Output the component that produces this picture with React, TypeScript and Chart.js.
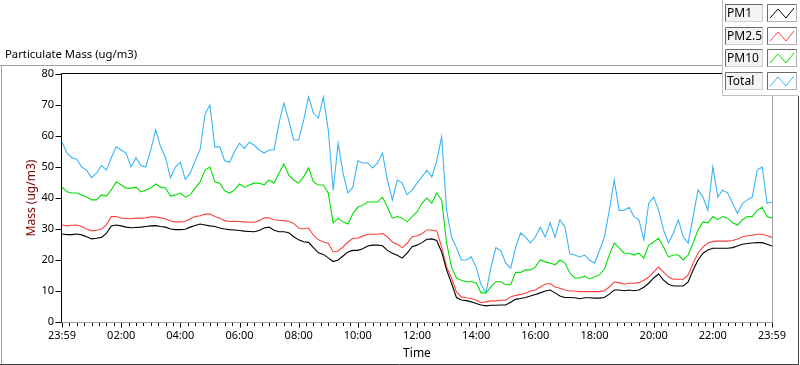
import React, { useEffect, useRef } from 'react';
import { Chart, registerables } from 'chart.js';
Chart.register(...registerables);

// Values sampled every 10 minutes starting at 23:59 (minute 0) to 23:59 next day (minute 1440)
const STEP_MIN = 10;

const PM1 = [
  28.4, 28.2, 28.2, 28.4, 28.1, 27.5, 26.8, 27.0, 27.3, 28.6,
  31.0, 31.3, 31.0, 30.6, 30.4, 30.5, 30.6, 30.8, 31.0, 31.1,
  30.8, 30.6, 30.0, 29.8, 29.8, 29.9, 30.6, 31.1, 31.6, 31.3,
  31.0, 30.8, 30.3, 30.0, 29.8, 29.7, 29.5, 29.3, 29.2, 29.1,
  29.5, 30.3, 30.6, 29.6, 29.1, 29.1, 28.8, 27.5, 26.5, 25.9,
  25.7, 24.0, 22.3, 21.8, 20.7, 19.5, 20.0, 21.3, 22.6, 23.1,
  23.1, 23.6, 24.5, 24.8, 24.8, 24.6, 23.1, 22.2, 21.5, 20.6,
  22.2, 24.3, 24.8, 25.6, 26.7, 26.8, 26.3, 22.6, 16.8, 12.5,
  7.9, 7.1, 6.9, 6.5, 6.0, 5.5, 5.2, 5.4, 5.4, 5.5,
  5.5, 6.4, 7.3, 7.6, 7.9, 8.4, 8.9, 9.4, 10.0, 10.3,
  9.4, 8.4, 7.9, 7.9, 7.8, 7.5, 7.8, 7.8, 7.7, 7.7,
  7.9, 9.0, 10.3, 10.3, 10.1, 10.3, 10.1, 10.3, 11.2, 12.5,
  14.2, 15.5, 13.5, 12.2, 11.6, 11.6, 11.6, 12.9, 16.8, 20.0,
  22.2, 23.2, 23.8, 23.8, 23.8, 23.8, 24.0, 24.5, 25.1, 25.3,
  25.5, 25.6, 25.6, 25.1, 24.5,
];

const PM25 = [
  31.3, 31.0, 31.2, 31.3, 30.8, 30.0, 29.4, 29.6, 30.0, 31.3,
  34.0, 34.0, 33.5, 33.4, 33.3, 33.5, 33.5, 33.6, 33.9, 33.9,
  33.6, 33.3, 32.6, 32.3, 32.3, 32.4, 33.3, 34.0, 34.3, 34.8,
  34.8, 34.0, 33.5, 32.7, 32.4, 32.5, 32.4, 32.3, 32.2, 32.2,
  32.7, 33.6, 33.6, 33.0, 32.8, 32.7, 32.5, 31.8, 30.3, 30.0,
  30.3, 28.0, 26.5, 25.8, 25.4, 22.6, 22.9, 24.2, 25.8, 27.0,
  27.0, 27.7, 28.3, 28.3, 28.3, 28.5, 27.5, 25.8, 25.1, 24.0,
  25.4, 27.5, 27.8, 28.5, 29.7, 29.7, 29.4, 24.2, 17.7, 14.2,
  9.7, 8.1, 7.8, 7.6, 7.1, 6.2, 6.5, 6.8, 6.8, 7.0,
  7.0, 8.1, 8.6, 8.9, 9.3, 10.0, 10.3, 11.3, 12.2, 12.4,
  11.3, 10.9, 10.3, 10.0, 10.0, 9.8, 9.8, 9.8, 9.8, 9.8,
  10.1, 11.3, 12.9, 12.7, 12.2, 12.5, 12.5, 12.7, 13.5, 14.5,
  16.1, 17.7, 16.1, 14.5, 13.8, 13.8, 13.8, 15.2, 19.0, 22.2,
  24.2, 25.5, 26.0, 26.1, 26.1, 26.1, 26.3, 26.8, 27.5, 27.8,
  28.0, 28.3, 28.3, 27.8, 27.3,
];

const PM10 = [
  43.5, 42.0, 41.6, 41.6, 41.0, 40.3, 39.4, 39.4, 41.0, 40.6,
  42.6, 45.2, 44.2, 43.2, 43.2, 43.5, 42.0, 42.6, 43.2, 44.5,
  43.5, 43.2, 40.6, 41.0, 41.6, 40.3, 41.0, 43.2, 45.2, 49.0,
  50.0, 45.2, 44.8, 42.3, 41.6, 42.6, 44.5, 43.5, 44.2, 44.8,
  44.8, 44.2, 45.8, 44.8, 48.0, 51.0, 47.4, 45.8, 44.8, 46.8,
  49.7, 45.2, 44.2, 44.2, 41.6, 32.0, 33.5, 32.3, 31.6, 35.0,
  37.0, 37.7, 38.7, 38.7, 38.7, 40.3, 37.0, 33.5, 34.0, 33.5,
  32.3, 34.0, 35.5, 38.3, 40.0, 38.3, 41.6, 39.4, 25.5, 17.7,
  14.2, 13.5, 13.0, 13.0, 12.6, 9.4, 9.4, 11.3, 13.0, 13.0,
  12.0, 12.0, 16.0, 16.0, 16.8, 16.8, 17.7, 20.0, 19.4, 19.0,
  18.4, 20.0, 19.0, 15.8, 14.2, 14.2, 14.8, 13.9, 14.5, 15.2,
  17.0, 21.6, 25.5, 23.9, 22.2, 22.2, 21.6, 22.2, 20.6, 24.8,
  25.8, 27.0, 24.2, 21.0, 21.6, 21.6, 20.0, 21.6, 25.5, 29.7,
  32.3, 32.0, 34.0, 33.0, 34.0, 33.5, 32.0, 31.3, 33.0, 34.0,
  34.0, 36.0, 37.0, 34.0, 33.5,
];

const TOTAL = [
  58.0, 54.5, 53.0, 52.5, 50.0, 49.0, 46.5, 48.0, 50.5, 49.0,
  53.0, 56.5, 55.5, 54.5, 50.0, 53.0, 50.5, 50.0, 55.5, 62.0,
  56.5, 53.0, 46.5, 50.0, 51.5, 46.0, 48.0, 52.0, 55.5, 67.0,
  70.0, 56.5, 56.5, 52.0, 51.5, 55.0, 57.7, 56.0, 58.0, 57.0,
  55.5, 54.5, 55.5, 55.5, 64.0, 70.6, 65.0, 58.7, 58.7, 65.0,
  72.6, 67.4, 65.8, 72.6, 62.0, 42.5, 57.7, 48.0, 41.6, 43.5,
  52.0, 51.3, 51.3, 49.7, 51.3, 54.5, 45.8, 39.4, 45.8, 44.8,
  41.0, 42.6, 44.8, 46.8, 49.0, 46.8, 52.0, 59.7, 36.0, 27.4,
  24.0, 20.0, 20.0, 21.0, 17.7, 12.0, 9.5, 17.7, 24.0, 23.0,
  19.0, 17.4, 24.0, 28.7, 27.4, 25.5, 27.4, 30.6, 27.4, 32.0,
  27.4, 33.0, 30.6, 22.0, 21.6, 21.0, 21.6, 20.0, 19.0, 23.0,
  27.4, 36.0, 45.8, 36.0, 36.0, 37.0, 34.0, 33.0, 26.5, 38.3,
  40.3, 36.0, 29.7, 25.5, 28.7, 33.0, 27.4, 25.5, 34.0, 42.6,
  40.3, 36.0, 50.0, 40.3, 42.6, 41.6, 38.3, 35.0, 38.3, 39.4,
  40.3, 49.0, 50.0, 38.3, 38.7,
];

const SERIES_NAMES = ['PM1', 'PM2.5', 'PM10', 'Total'];
const SERIES_COLORS = ['#000000', '#ff4040', '#00e000', '#3cb4f8'];
const X_LABELS: Record<number, string> = {
  0: '23:59', 120: '02:00', 240: '04:00', 360: '06:00', 480: '08:00', 600: '10:00',
  720: '12:00', 840: '14:00', 960: '16:00', 1080: '18:00', 1200: '20:00', 1320: '22:00', 1440: '23:59',
};
const Y_TICKS = [0, 10, 20, 30, 40, 50, 60, 70, 80];
const TITLE = 'Particulate Mass (ug/m3)';
const FONT = '"Noto Sans", "Open Sans", sans-serif';

function line(ctx: CanvasRenderingContext2D, x1: number, y1: number, x2: number, y2: number) {
  ctx.beginPath();
  ctx.moveTo(x1, y1);
  ctx.lineTo(x2, y2);
  ctx.stroke();
}

const decorPlugin = {
  id: 'decor',
  beforeDraw(chart: any) {
    const { ctx, width, height } = chart;
    ctx.save();
    ctx.fillStyle = '#ffffff';
    ctx.fillRect(0, 0, width, height);
    ctx.restore();
  },
  afterDraw(chart: any) {
    const { ctx, chartArea: a, scales } = chart;
    ctx.save();
    ctx.lineWidth = 1;
    const L = Math.round(a.left) - 0.5;
    const T = Math.round(a.top) - 0.5;
    const R = Math.round(a.right) + 0.5;
    const B = Math.round(a.bottom) + 0.5;

    // outer frame
    ctx.strokeStyle = '#a0a0a0';
    line(ctx, 0, 65.5, 722, 65.5);
    line(ctx, 1.5, 65, 1.5, 364);
    ctx.strokeStyle = '#404040';
    line(ctx, 0, 364.5, 799, 364.5);
    line(ctx, 798.5, 0, 798.5, 365);

    // plot frame
    ctx.strokeStyle = '#a0a0a0';
    line(ctx, L, B, R, B);
    line(ctx, R, T, R, B + 0.5);
    ctx.strokeStyle = '#000000';
    line(ctx, L, T, R, T);
    line(ctx, L, T, L, B);

    // y ticks
    const ys = scales.y;
    ctx.strokeStyle = '#000000';
    for (const v of Y_TICKS) {
      const py = Math.round(ys.getPixelForValue(v)) + 0.5;
      line(ctx, L - 6, py, L, py);
    }
    // x ticks (major every 2h, minor every 15 min)
    const xs = scales.x;
    for (let v = 0; v <= 1440; v += 15) {
      const px = Math.round(xs.getPixelForValue(v)) + 0.5;
      const major = v % 120 === 0;
      line(ctx, px, B + 0.5, px, B + (major ? 5 : 3.5));
    }

    // title
    ctx.fillStyle = '#000000';
    ctx.font = `11.3px ${FONT}`;
    ctx.textBaseline = 'middle';
    ctx.textAlign = 'left';
    ctx.fillText(TITLE, 5, 55);

    // legend panel
    ctx.fillStyle = '#ffffff';
    ctx.fillRect(722, 0, 78, 96);
    ctx.strokeStyle = '#c0c0c0';
    line(ctx, 722.5, 0, 722.5, 96);
    line(ctx, 722, 95.5, 798, 95.5);
    const rowTops = [4, 27, 49, 72];
    SERIES_NAMES.forEach((name, i) => {
      const y0 = rowTops[i];
      const h = 18;
      // label box
      ctx.fillStyle = '#f4f4f4';
      ctx.fillRect(725, y0, 38, h);
      ctx.strokeStyle = '#6a6a6a';
      line(ctx, 725.5, y0 + h, 725.5, y0 + 0.5);
      line(ctx, 725.5, y0 + 0.5, 763, y0 + 0.5);
      ctx.strokeStyle = '#cfcfcf';
      line(ctx, 762.5, y0 + 0.5, 762.5, y0 + h);
      line(ctx, 725.5, y0 + h - 0.5, 763, y0 + h - 0.5);
      ctx.fillStyle = '#000000';
      ctx.font = `12px ${FONT}`;
      ctx.textBaseline = 'middle';
      ctx.fillText(name, 727, y0 + h / 2 + 0.5);
      // icon box
      ctx.fillStyle = '#ffffff';
      ctx.fillRect(767, y0, 30, h);
      ctx.strokeStyle = '#6a6a6a';
      line(ctx, 767.5, y0 + h, 767.5, y0 + 0.5);
      line(ctx, 767.5, y0 + 0.5, 797, y0 + 0.5);
      ctx.strokeStyle = '#b0b0b0';
      line(ctx, 796.5, y0 + 0.5, 796.5, y0 + h);
      line(ctx, 767.5, y0 + h - 0.5, 797, y0 + h - 0.5);
      ctx.strokeStyle = SERIES_COLORS[i];
      ctx.beginPath();
      ctx.moveTo(770, y0 + 14);
      ctx.lineTo(778, y0 + 5);
      ctx.lineTo(786, y0 + 14);
      ctx.lineTo(794, y0 + 4);
      ctx.stroke();
    });
    ctx.restore();
  },
};

export default function App() {
  const ref = useRef<HTMLCanvasElement>(null);
  useEffect(() => {
    if (!ref.current) return;
    const allSeries = [PM1, PM25, PM10, TOTAL];
    const chart = new Chart(ref.current, {
      type: 'line',
      data: {
        datasets: allSeries.map((s, i) => ({
          label: SERIES_NAMES[i],
          data: s.map((v, k) => ({ x: k * STEP_MIN, y: v })),
          borderColor: SERIES_COLORS[i],
          backgroundColor: SERIES_COLORS[i],
          borderWidth: 1.1,
          pointRadius: 0,
          tension: 0,
          fill: false,
        })),
      },
      options: {
        responsive: false,
        animation: false,
        maintainAspectRatio: false,
        layout: { padding: { top: 74, right: 28, left: 0, bottom: 0 } },
        plugins: { legend: { display: false }, tooltip: { enabled: false }, title: { display: false } },
        scales: {
          x: {
            type: 'linear',
            min: 0,
            max: 1440,
            afterFit: (s: any) => { s.height = 43; },
            afterBuildTicks: (s: any) => {
              const t = [];
              for (let v = 0; v <= 1440; v += 15) t.push({ value: v });
              s.ticks = t;
            },
            grid: { display: false, drawTicks: false },
            border: { display: false },
            ticks: {
              autoSkip: false,
              maxRotation: 0,
              padding: 7,
              color: '#000000',
              font: { family: FONT, size: 11 },
              callback: (v: any) => (X_LABELS[v as number] ?? ''),
            },
            title: {
              display: true,
              text: 'Time',
              color: '#000000',
              font: { family: FONT, size: 12 },
              padding: { top: 0, bottom: 4 },
            },
          },
          y: {
            min: 0,
            max: 80,
            afterFit: (s: any) => { s.width = 62; },
            grid: { display: false, drawTicks: false },
            border: { display: false },
            ticks: {
              stepSize: 10,
              padding: 8,
              color: '#000000',
              font: { family: FONT, size: 11 },
            },
            title: {
              display: true,
              text: 'Mass (ug/m3)',
              color: '#800000',
              font: { family: FONT, size: 12 },
              padding: { top: 24, bottom: 0 },
            },
          },
        },
      },
      plugins: [decorPlugin],
    } as any);
    return () => chart.destroy();
  }, []);
  return (
    <div style={{ position: 'absolute', left: 0, top: 0, width: 800, height: 365 }}>
      <canvas ref={ref} width={800} height={365} style={{ width: 800, height: 365, display: 'block' }} />
    </div>
  );
}
